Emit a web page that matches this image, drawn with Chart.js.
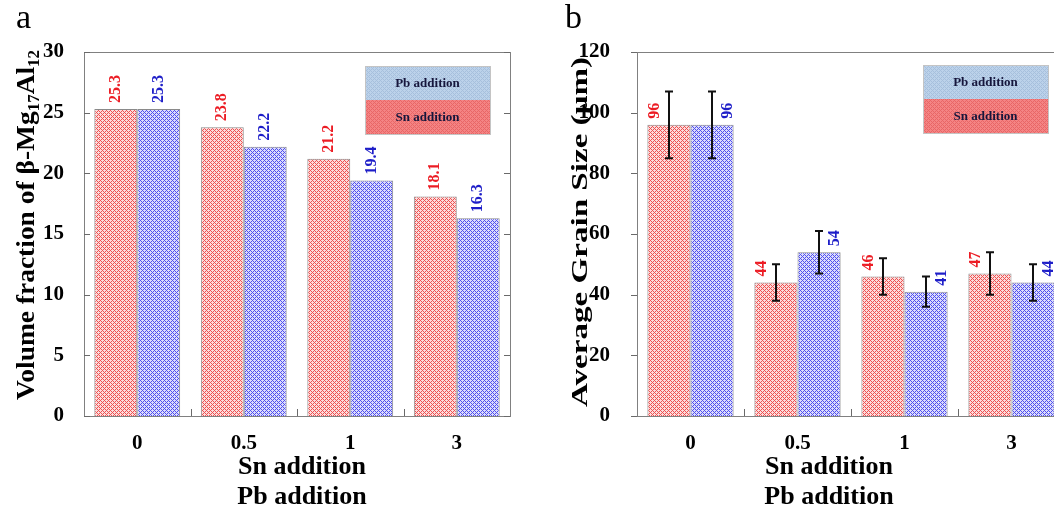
<!DOCTYPE html>
<html><head><meta charset="utf-8">
<script src="https://cdn.jsdelivr.net/npm/chart.js@4"></script>
<style>
html,body{margin:0;padding:0;background:#fff;width:1054px;height:514px;overflow:hidden;position:relative}
#ca{position:absolute;left:0;top:0}
#cb{position:absolute;left:526px;top:0}
</style></head><body>
<canvas id="ca" width="527" height="514"></canvas>
<canvas id="cb" width="546" height="514"></canvas>
<script>
// ---- data ----
const categories = ['0', '0.5', '1', '3'];
const seriesNames = ['Sn addition', 'Pb addition'];
const fractionSn = [25.3, 23.8, 21.2, 18.1];
const fractionPb = [25.3, 22.2, 19.4, 16.3];
const grainSn = [96, 44, 46, 47];
const grainPb = [96, 54, 41, 44];
const grainSnErr = [11, 6, 6, 7];
const grainPbErr = [11, 7, 5, 6];
const fractionTickStep = 5, fractionMax = 30;
const grainTickStep = 20, grainMax = 120;
const xTitleLines = ['Sn addition', 'Pb addition'];
const yTitleA = [{t: 'Volume fraction of β-Mg'}, {t: '17', sub: true}, {t: 'Al'}, {t: '12', sub: true}];
const yTitleB = [{t: 'Average Grain Size (μm)'}];
const panelLetters = ['a', 'b'];

// ---- styling ----
const SERIF = '"Liberation Serif", "Times New Roman", serif';
const RED_TXT = '#ec1c24', BLUE_TXT = '#1e1ec8';

function pattern(ctx, bg, fg) {
  const c = document.createElement('canvas'); c.width = 4; c.height = 4;
  const g = c.getContext('2d');
  g.fillStyle = bg; g.fillRect(0, 0, 4, 4);
  g.fillStyle = fg;
  [[0,0],[1,1],[2,2],[3,3],[1,3],[3,1]].forEach(([x, y]) => g.fillRect(x, y, 1, 1));
  return ctx.createPattern(c, 'repeat');
}

function rotText(ctx, text, x, y, font, color, align) {
  ctx.save(); ctx.translate(x, y); ctx.rotate(-Math.PI / 2);
  ctx.font = font; ctx.fillStyle = color; ctx.textAlign = align; ctx.textBaseline = 'middle';
  ctx.fillText(text, 0, 0); ctx.restore();
}

function richRot(ctx, segs, cx, cy, size, len) {
  ctx.save(); ctx.translate(cx, cy); ctx.rotate(-Math.PI / 2);
  ctx.textBaseline = 'alphabetic'; ctx.fillStyle = '#000'; ctx.textAlign = 'left';
  const fonts = segs.map(s => 'bold ' + (s.sub ? Math.round(size * 0.62) : size) + 'px ' + SERIF);
  let total = 0;
  const widths = segs.map((s, i) => { ctx.font = fonts[i]; const w = ctx.measureText(s.t).width; total += w; return w; });
  ctx.scale(len / total, 1);
  let x = -total / 2; const base = size * 0.33;
  segs.forEach((s, i) => { ctx.font = fonts[i]; ctx.fillText(s.t, x, base + (s.sub ? size * 0.22 : 0)); x += widths[i]; });
  ctx.restore();
}

function decor(o) {
  return {
    id: 'decor',
    afterDraw(chart) {
      const ctx = chart.ctx, a = chart.chartArea;
      const xs = chart.scales.x, ys = chart.scales.y;
      ctx.save();
      // frame
      ctx.strokeStyle = '#808080'; ctx.lineWidth = 1;
      ctx.strokeRect(Math.round(a.left) + 0.5, Math.round(a.top) + 0.5, Math.round(a.right - a.left), Math.round(a.bottom - a.top));
      // y ticks
      ctx.strokeStyle = '#6a6a6a';
      ys.ticks.forEach(t => {
        const y = Math.round(ys.getPixelForValue(t.value)) + 0.5;
        ctx.beginPath();
        if (o.leftOut) { ctx.moveTo(a.left - 6, y); ctx.lineTo(a.left, y); }
        else { ctx.moveTo(a.left, y); ctx.lineTo(a.left + 6, y); }
        ctx.moveTo(a.right, y); ctx.lineTo(a.right - 6, y);
        ctx.stroke();
      });
      // x boundary ticks
      for (let i = 0; i < categories.length - 1; i++) {
        const x = Math.round((xs.getPixelForValue(i) + xs.getPixelForValue(i + 1)) / 2) + 0.5;
        ctx.beginPath(); ctx.moveTo(x, a.bottom); ctx.lineTo(x, a.bottom - 7); ctx.stroke();
      }
      // error bars
      chart.data.datasets.forEach((ds, di) => {
        if (!ds.errors) return;
        const meta = chart.getDatasetMeta(di);
        ctx.strokeStyle = '#111'; ctx.lineWidth = 2;
        meta.data.forEach((bar, i) => {
          const v = ds.data[i], e = ds.errors[i];
          const y1 = ys.getPixelForValue(v + e), y2 = ys.getPixelForValue(v - e), x = Math.round(bar.x);
          ctx.beginPath();
          ctx.moveTo(x, y1); ctx.lineTo(x, y2);
          ctx.moveTo(x - 4, y1); ctx.lineTo(x + 4, y1);
          ctx.moveTo(x - 4, y2); ctx.lineTo(x + 4, y2);
          ctx.stroke();
        });
      });
      // value labels
      chart.data.datasets.forEach((ds, di) => {
        const meta = chart.getDatasetMeta(di);
        const col = di === 0 ? RED_TXT : BLUE_TXT;
        meta.data.forEach((bar, i) => {
          let x = bar.x;
          if (o.sideLabels) x = di === 0 ? bar.x - bar.width / 2 + 7 : bar.x + bar.width / 2 - 6;
          rotText(ctx, String(ds.data[i]), x, bar.y - 6, 'bold 16px ' + SERIF, col, 'left');
        });
      });
      // legend box
      const L = o.legend;
      const hh = L.h / 2;
      ctx.fillStyle = o.legBlue; ctx.fillRect(L.x, L.y, L.w, hh);
      ctx.fillStyle = o.legRed; ctx.fillRect(L.x, L.y + hh, L.w, hh);
      ctx.strokeStyle = '#c4c4c4'; ctx.lineWidth = 1;
      ctx.strokeRect(L.x + 0.5, L.y + 0.5, L.w, L.h);
      ctx.font = 'bold 13px ' + SERIF; ctx.fillStyle = '#16163c';
      ctx.textAlign = 'center'; ctx.textBaseline = 'middle';
      ctx.fillText(chart.data.datasets[1].label, L.x + L.w / 2, L.y + hh / 2 + 1);
      ctx.fillText(chart.data.datasets[0].label, L.x + L.w / 2, L.y + hh * 1.5 + 1);
      // panel letter
      ctx.font = '34px ' + SERIF; ctx.fillStyle = '#000'; ctx.textAlign = 'left'; ctx.textBaseline = 'alphabetic';
      ctx.fillText(o.letter, o.letterX, 28);
      // x title
      ctx.font = 'bold 26px ' + SERIF; ctx.textAlign = 'center'; ctx.textBaseline = 'middle';
      xTitleLines.forEach((t, i) => ctx.fillText(t, o.xTitleX, 467 + i * 30));
      // y title
      richRot(ctx, o.yTitle, o.yTitleX, o.yTitleY, o.yTitleSize, o.yTitleLen);
      ctx.restore();
    }
  };
}

function buildChart(id, o) {
  const ctx = document.getElementById(id).getContext('2d');
  o.legBlue = pattern(ctx, '#bcd2ea', '#a6bfdc');
  o.legRed = pattern(ctx, '#f48484', '#e86666');
  const tickFont = {family: SERIF, size: 21, weight: 'bold'};
  return new Chart(ctx, {
    type: 'bar',
    data: {
      labels: categories,
      datasets: [
        {label: seriesNames[0], data: o.sn, errors: o.snErr, backgroundColor: pattern(ctx, '#fcdcdc', '#ee5050'), borderColor: '#8a8a8a', borderWidth: 1},
        {label: seriesNames[1], data: o.pb, errors: o.pbErr, backgroundColor: pattern(ctx, '#dcdcfc', '#5050ee'), borderColor: '#8a8a8a', borderWidth: 1}
      ]
    },
    options: {
      responsive: false, animation: false,
      layout: {padding: {left: 0, right: o.padRight, top: 52, bottom: 2}},
      datasets: {bar: {categoryPercentage: 0.806, barPercentage: 1}},
      plugins: {legend: {display: false}, tooltip: {enabled: false}},
      scales: {
        x: {grid: {display: false}, border: {display: false},
            ticks: {color: '#000', font: tickFont, padding: 7},
            afterFit: s => { s.height = 96; }},
        y: {min: 0, max: o.max, grid: {display: false}, border: {display: false},
            ticks: {stepSize: o.step, color: '#000', font: tickFont, padding: o.tickPad},
            afterFit: s => { s.width = o.yWidth; }}
      }
    },
    plugins: [decor(o)]
  });
}

buildChart('ca', {
  sn: fractionSn, pb: fractionPb, snErr: null, pbErr: null,
  max: fractionMax, step: fractionTickStep, padRight: 17, yWidth: 84, tickPad: 12,
  leftOut: false, sideLabels: false,
  legend: {x: 365, y: 66, w: 125, h: 68},
  letter: panelLetters[0], letterX: 16, xTitleX: 302,
  yTitle: yTitleA, yTitleX: 25, yTitleY: 225, yTitleSize: 26, yTitleLen: 350
});
buildChart('cb', {
  sn: grainSn, pb: grainPb, snErr: grainSnErr, pbErr: grainPbErr,
  max: grainMax, step: grainTickStep, padRight: 7, yWidth: 111, tickPad: 19,
  leftOut: true, sideLabels: true,
  legend: {x: 397, y: 65, w: 125, h: 68},
  letter: panelLetters[1], letterX: 39, xTitleX: 303,
  yTitle: yTitleB, yTitleX: 53, yTitleY: 232, yTitleSize: 23, yTitleLen: 350
});
</script>
</body></html>
